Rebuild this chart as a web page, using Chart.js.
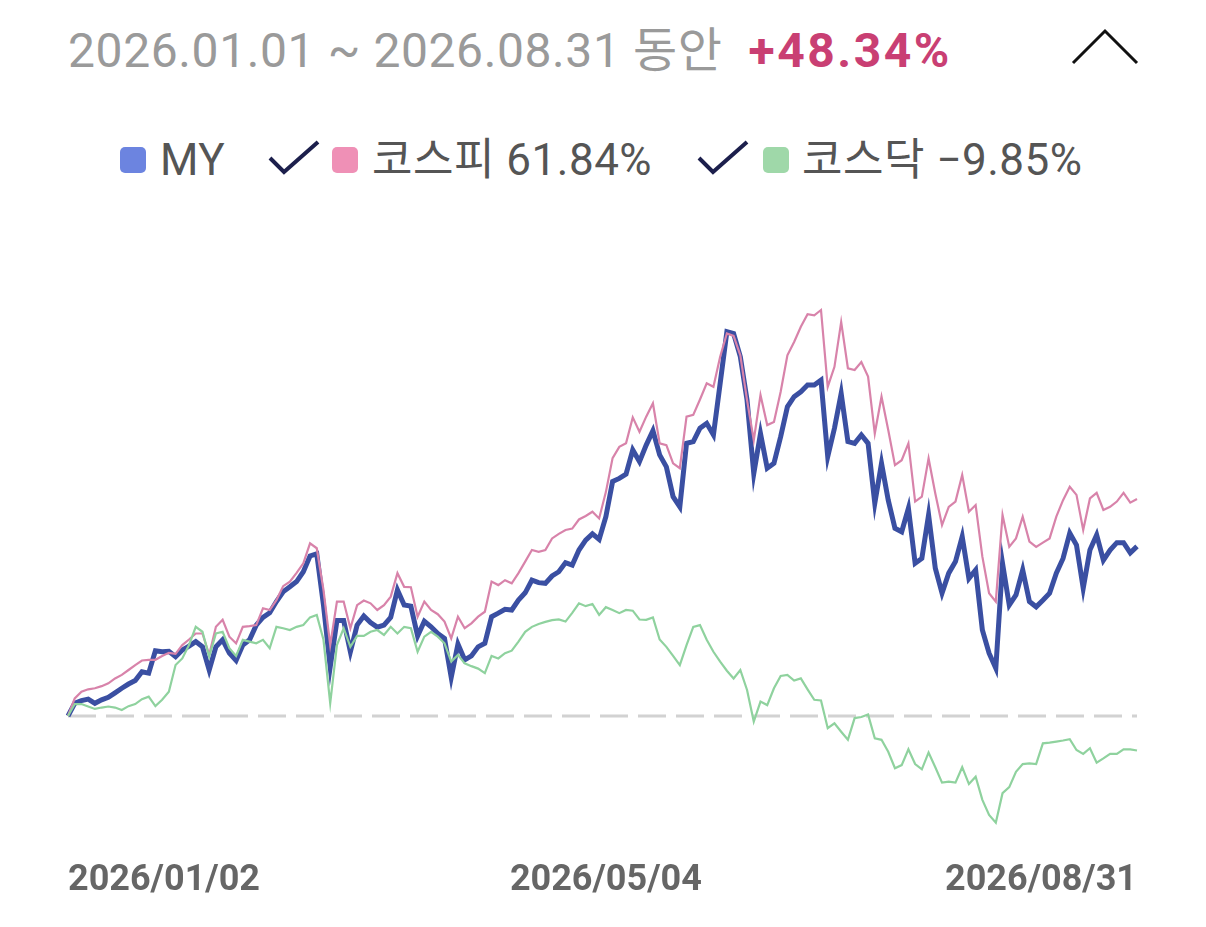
<!DOCTYPE html>
<html lang="ko">
<head>
<meta charset="utf-8">
<script src="https://cdn.jsdelivr.net/npm/chart.js@4.4.1/dist/chart.umd.min.js"></script>
<style>
  body { margin: 0; background: #fff; width: 1206px; height: 927px; overflow: hidden; position: relative;
         font-family: Roboto, "Noto Sans CJK KR", sans-serif; }
  #head { position: absolute; left: 68px; top: 11px; font-size: 48px; color: #9a9a9a; white-space: nowrap; letter-spacing: 0.6px; }
  #head b { color: #c93f73; font-weight: 700; margin-left: 26px; letter-spacing: 2.5px; }
  .abs { position: absolute; }
  .sw { position: absolute; top: 147px; width: 26px; height: 26px; border-radius: 5px; }
  .lg { position: absolute; top: 134px; font-size: 44px; color: #555; white-space: nowrap; line-height: 52px; letter-spacing: 0.5px; }
  canvas { position: absolute; left: 0; top: 0; }
</style>
</head>
<body>
<div id="head">2026.01.01 ~ 2026.08.31 동안<b>+48.34%</b></div>
<svg class="abs" style="left:1068px;top:26px" width="74" height="42">
  <polyline points="5,37 37,5 69,37" fill="none" stroke="#111" stroke-width="3"/>
</svg>

<span class="sw" style="left:120px;background:#6c84e0"></span>
<span class="lg" style="left:160px">MY</span>
<svg class="abs" style="left:266px;top:138px" width="56" height="40">
  <polyline points="4,20 18,34 52,4" fill="none" stroke="#1c1f4c" stroke-width="4"/>
</svg>
<span class="sw" style="left:332px;background:#ef90b6"></span>
<span class="lg" style="left:372px">코스피 61.84%</span>
<svg class="abs" style="left:695px;top:138px" width="56" height="40">
  <polyline points="4,20 18,34 52,4" fill="none" stroke="#1c1f4c" stroke-width="4"/>
</svg>
<span class="sw" style="left:763px;background:#9fd8a9"></span>
<span class="lg" style="left:802px">코스닥 −9.85%</span>

<canvas id="chart" width="1206" height="927"></canvas>

<script>
"use strict";
// cumulative return (%) per trading day, 2026/01/02 ~ 2026/08/31
const myValues = [
  0, 3.6, 4.4, 4.8, 3.6, 4.6, 5.3, 6.6, 7.9, 9.1,
  10.1, 12.6, 12.2, 18.6, 18.3, 18.4, 16.9, 18.8, 19.9, 21.2,
  19.7, 13.1, 19.7, 21.7, 17.9, 15.8, 20.2, 21.7, 25.9, 28.1,
  29.4, 32.6, 35.4, 36.8, 38.3, 41.1, 45.6, 46.2, 31.6, 14.0,
  27.2, 27.2, 18.3, 25.9, 28.5, 26.6, 25.3, 25.9, 28.1, 35.9,
  31.6, 31.3, 22.8, 27.0, 25.4, 23.5, 22.1, 11.0, 20.5, 16.0,
  17.1, 19.7, 20.7, 28.3, 29.3, 30.4, 30.2, 33.0, 35.1, 38.7,
  38.0, 37.8, 39.9, 41.1, 43.7, 43.0, 47.3, 50.1, 51.9, 50.3,
  56.8, 66.8, 67.7, 68.9, 75.8, 72.5, 77.2, 81.3, 74.4, 71.0,
  62.5, 59.6, 77.7, 78.2, 82.0, 83.4, 80.1, 94.8, 109.5, 109.0,
  102.4, 90.0, 69.1, 80.5, 70.6, 72.0, 79.6, 88.1, 91.0, 92.4,
  94.3, 94.3, 95.7, 73.9, 82.0, 91.9, 78.2, 77.7, 80.1, 77.7,
  60.6, 72.0, 61.5, 53.5, 52.5, 59.2, 43.5, 44.9, 57.3, 42.1,
  35.0, 40.7, 44.0, 51.1, 39.2, 41.6, 24.5, 17.9, 13.6, 43.5,
  31.6, 34.5, 41.6, 32.6, 31.1, 33.0, 35.0, 40.7, 44.9, 52.1,
  48.7, 36.4, 47.3, 51.6, 44.4, 47.3, 49.4, 49.4, 46.5, 48.34
];
const kospiValues = [
  0, 5.0, 6.9, 7.6, 7.9, 8.5, 9.3, 10.7, 11.7, 13.1,
  14.5, 15.8, 16.0, 16.0, 17.1, 18.0, 17.7, 20.2, 21.8, 23.5,
  23.5, 17.4, 25.4, 27.4, 22.6, 20.7, 25.4, 25.6, 25.9, 30.7,
  30.2, 33.0, 37.0, 38.3, 40.8, 43.5, 49.2, 47.8, 35.9, 20.2,
  32.6, 32.6, 25.0, 31.6, 32.9, 32.1, 30.2, 31.6, 34.0, 40.7,
  36.8, 36.7, 28.3, 32.6, 30.2, 29.0, 26.9, 22.1, 28.3, 25.0,
  26.4, 28.3, 29.7, 38.3, 37.3, 38.7, 37.8, 40.7, 44.0, 47.3,
  46.8, 47.3, 50.6, 51.9, 53.0, 53.4, 56.0, 57.0, 58.2, 56.3,
  63.8, 73.5, 76.7, 77.7, 85.1, 81.0, 85.3, 89.1, 77.7, 77.2,
  72.0, 70.6, 85.3, 85.8, 90.2, 94.8, 93.8, 102.4, 109.0, 108.3,
  102.8, 90.0, 78.6, 91.5, 82.9, 83.8, 92.4, 102.8, 106.6, 110.9,
  114.5, 114.2, 115.7, 93.8, 99.5, 112.3, 99.1, 98.6, 100.9, 96.7,
  80.5, 91.0, 81.5, 71.5, 72.9, 77.7, 61.1, 62.5, 73.4, 63.4,
  54.4, 59.6, 61.1, 68.7, 58.2, 60.1, 45.4, 35.0, 32.6, 57.3,
  48.2, 50.6, 56.8, 49.7, 48.2, 49.4, 50.6, 56.8, 61.5, 65.3,
  63.0, 53.0, 62.0, 63.6, 58.7, 59.6, 61.1, 63.6, 60.8, 61.84
];
const kosdaqValues = [
  0, 3.4, 3.4, 2.7, 2.0, 2.4, 2.7, 2.4, 1.7, 2.8,
  3.4, 4.8, 5.5, 2.8, 4.6, 6.9, 14.5, 16.4, 20.2, 25.4,
  24.0, 16.9, 23.5, 24.0, 19.3, 17.1, 21.7, 21.2, 20.7, 21.7,
  19.3, 25.4, 25.0, 24.5, 25.4, 25.9, 28.1, 28.8, 21.7, 3.6,
  20.2, 25.0, 19.7, 22.8, 22.8, 24.0, 24.5, 23.1, 25.4, 23.5,
  25.4, 25.0, 18.3, 22.6, 24.0, 22.6, 20.7, 15.5, 17.4, 15.0,
  14.2, 13.5, 12.2, 17.1, 16.4, 17.9, 18.6, 21.2, 24.0, 25.4,
  26.2, 26.8, 27.3, 27.5, 26.9, 29.4, 32.1, 31.3, 31.9, 28.8,
  31.0, 30.2, 29.3, 30.2, 30.0, 27.5, 27.4, 28.1, 21.8, 19.7,
  17.1, 14.5, 20.2, 25.4, 25.9, 21.7, 18.3, 15.5, 12.9, 10.7,
  13.1, 7.4, -1.6, 4.1, 3.1, 7.9, 11.4, 11.7, 10.1, 10.7,
  7.6, 4.6, 4.4, -3.5, -2.1, -4.5, -6.8, -0.6, -0.3, 0.4,
  -6.4, -6.8, -10.2, -14.9, -14.0, -9.5, -13.7, -15.2, -10.4, -14.6,
  -19.0, -18.7, -19.0, -14.6, -19.4, -17.3, -23.9, -28.2, -30.4, -22.0,
  -20.3, -15.9, -13.7, -13.5, -13.7, -7.8, -7.6, -7.3, -7.0, -6.6,
  -9.7, -10.8, -9.2, -13.3, -12.1, -10.8, -10.8, -9.5, -9.5, -9.85
];
const categories = myValues.map((_, i) => i);
const tickLabels = ['2026/01/02', '2026/05/04', '2026/08/31'];
const tickIndex = [0, 80, 159];

// dashed zero line + sparse date labels
const extras = {
    id: 'extras',
    beforeDatasetsDraw(chart) {
        const { ctx, chartArea, scales } = chart;
        const y0 = scales.y.getPixelForValue(0);
        ctx.save();
        ctx.strokeStyle = '#d2d2d2';
        ctx.lineWidth = 3;
        ctx.setLineDash([28, 10]);
        ctx.beginPath();
        ctx.moveTo(chartArea.left, y0);
        ctx.lineTo(chartArea.right, y0);
        ctx.stroke();
        ctx.restore();
    },
    afterDraw(chart) {
        const { ctx, scales } = chart;
        ctx.save();
        ctx.font = 'bold 36px Roboto, sans-serif';
        ctx.fillStyle = '#666';
        ctx.textBaseline = 'alphabetic';
        const aligns = ['left', 'center', 'right'];
        tickLabels.forEach((t, k) => {
            ctx.textAlign = aligns[k];
            ctx.fillText(t, scales.x.getPixelForValue(tickIndex[k]), 890);
        });
        ctx.restore();
    }
};

const ctx = document.getElementById('chart').getContext('2d');
new Chart(ctx, {
    type: 'line',
    data: {
        labels: categories,
        datasets: [
            { label: '코스닥', data: kosdaqValues, borderColor: '#8fd29e', borderWidth: 2.2 },
            { label: '코스피', data: kospiValues, borderColor: '#d883aa', borderWidth: 2.2 },
            { label: 'MY', data: myValues, borderColor: '#3a4fa2', borderWidth: 5 }
        ]
    },
    options: {
        responsive: false,
        animation: false,
        events: [],
        elements: {
            point: { radius: 0 },
            line: { tension: 0, borderJoinStyle: 'miter' }
        },
        layout: { padding: { left: 68, right: 69, top: 290, bottom: 97 } },
        plugins: {
            legend: { display: false },
            tooltip: { enabled: false }
        },
        scales: {
            x: { display: false },
            y: { display: false, min: -32.5, max: 121.4 }
        }
    },
    plugins: [extras]
});
</script>
</body>
</html>
